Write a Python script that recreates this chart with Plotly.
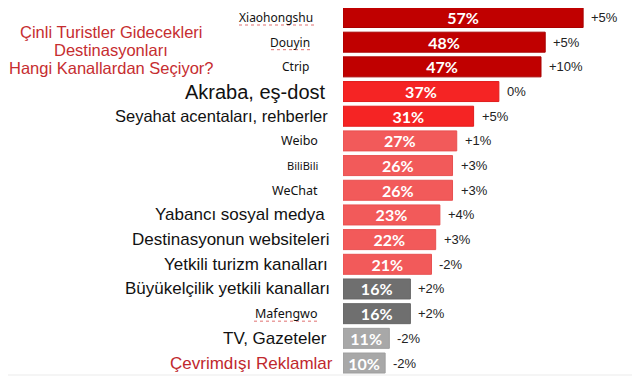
import plotly.graph_objects as go

categories = [
    "Xiaohongshu", "Douyin", "Ctrip", "Akraba, eş-dost", "Seyahat acentaları, rehberler",
    "Weibo", "BiliBili", "WeChat", "Yabancı sosyal medya", "Destinasyonun websiteleri",
    "Yetkili turizm kanalları", "Büyükelçilik yetkili kanalları", "Mafengwo",
    "TV, Gazeteler", "Çevrimdışı Reklamlar",
]
values = [57, 48, 47, 37, 31, 27, 26, 26, 23, 22, 21, 16, 16, 11, 10]
changes = ["+5%", "+5%", "+10%", "0%", "+5%", "+1%", "+3%", "+3%", "+4%", "+3%",
           "-2%", "+2%", "+2%", "-2%", "-2%"]
title_lines = ["Çinli Turistler Gidecekleri", "Destinasyonları", "Hangi Kanallardan Seçiyor?"]

# styling (not data)
bar_colors = (["#C00000"] * 3 + ["#F52424"] * 2 + ["#F25A5A"] * 6 +
              ["#6F6F6F"] * 2 + ["#A8A8A8"] * 2)
border_colors = (["#A80000"] * 3 + ["#E01C1C"] * 2 + ["#E85050"] * 6 +
                 ["#666666"] * 2 + ["#9E9E9E"] * 2)
ARIAL = "Liberation Sans, Arial, sans-serif"
GEO = "Noto Sans, sans-serif"
label_sizes = [12, 12, 12, 20, 16.5, 12.5, 11, 12.5, 17, 17, 17, 17, 12.5, 17, 17]
label_colors = ["#111111"] * 14 + ["#C0282D"]
label_shift = [-28, -31, -32, -15, -13, -23, -23, -23, -16, -11, -13, -11, -23, -14, -8]
label_fonts = [GEO] * 3 + [ARIAL] * 2 + [GEO] * 3 + [ARIAL] * 4 + [GEO] + [ARIAL] * 2
# spell-check style wavy underlines (pixel extents of the label text in the page)
underlined = {"Xiaohongshu": (239, 316), "Douyin": (271, 311), "Mafengwo": (254, 319)}

# the page body adds an 8px offset; the figure is sized and placed to compensate
W, H, OFF = 640 - 8, 377 - 8, 8
left = 343 - OFF
pitch = 24.68
first_center = 17.5 - OFF
y_top = -first_center / pitch
y_bot = y_top + H / pitch
plot_w = W - left

fig = go.Figure(go.Bar(
    x=values, y=categories, orientation="h",
    marker=dict(color=bar_colors, line=dict(color=border_colors, width=1)),
    text=[f"{v}%" for v in values], textposition="inside",
    insidetextanchor="middle", textangle=0, constraintext="none",
    textfont=dict(family="Lato, sans-serif", size=16, color="white", weight="bold"),
    hoverinfo="skip",
))

for cat, size, col, sh, fam in zip(categories, label_sizes, label_colors, label_shift, label_fonts):
    fig.add_annotation(x=0, xref="paper", y=cat, yref="y", text=cat, showarrow=False,
                       xanchor="right", yanchor="middle", xshift=sh,
                       font=dict(size=size, color=col, family=fam))

for cat, (px0, px1) in underlined.items():
    idx = categories.index(cat)
    yy = idx + 7.5 / pitch
    fig.add_shape(type="line", xref="paper", yref="y",
                  x0=(px0 - OFF - left) / plot_w, x1=(px1 - OFF - left) / plot_w,
                  y0=yy, y1=yy, line=dict(color="#E07070", width=1, dash="dot"))

for cat, v, ch in zip(categories, values, changes):
    fig.add_annotation(x=v, xref="x", y=cat, yref="y", text=ch, showarrow=False,
                       xanchor="left", yanchor="middle", xshift=6,
                       font=dict(size=13, color="#222222", family=ARIAL))

for i, line in enumerate(title_lines):
    fig.add_annotation(x=(111 - OFF - left) / plot_w, xref="paper",
                       y=1 - (32 + 18.2 * i - OFF) / H, yref="paper",
                       text=line, showarrow=False, xanchor="center", yanchor="middle",
                       font=dict(size=16.5, color="#C62D30", family=ARIAL))

fig.add_shape(type="line", xref="paper", yref="paper",
              x0=-left / plot_w, x1=1, y0=1 - (375 - OFF) / H, y1=1 - (375 - OFF) / H,
              line=dict(color="#EBEBEB", width=1))

fig.update_layout(
    width=W, height=H,
    margin=dict(l=left, r=0, t=0, b=0),
    paper_bgcolor="white", plot_bgcolor="white",
    bargap=0.19, showlegend=False,
    xaxis=dict(range=[0, 70.5], visible=False),
    yaxis=dict(range=[y_bot, y_top], visible=False, categoryorder="array",
               categoryarray=categories),
)

fig.write_html("out.html")
